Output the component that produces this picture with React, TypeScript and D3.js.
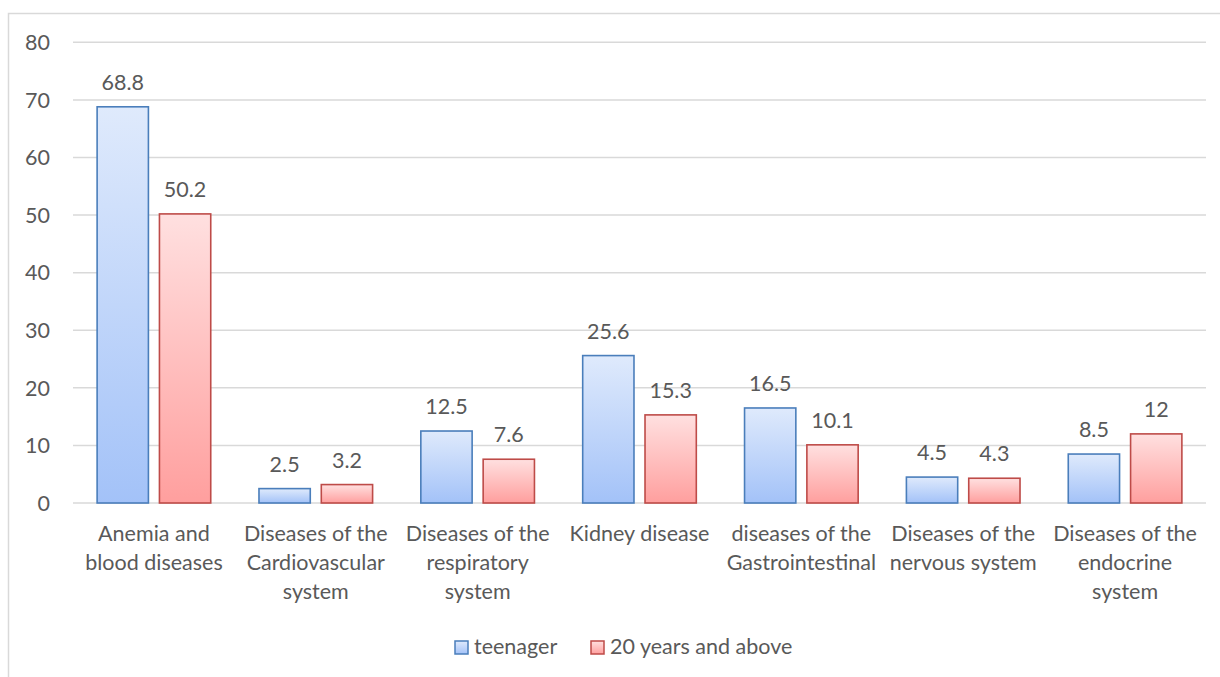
import React from "react";
import * as d3 from "d3";

const categories: string[][] = [
  ["Anemia and", "blood diseases"],
  ["Diseases of the", "Cardiovascular", "system"],
  ["Diseases of the", "respiratory", "system"],
  ["Kidney disease"],
  ["diseases of the", "Gastrointestinal"],
  ["Diseases of the", "nervous system"],
  ["Diseases of the", "endocrine", "system"],
];
const teenager = [68.8, 2.5, 12.5, 25.6, 16.5, 4.5, 8.5];
const adults = [50.2, 3.2, 7.6, 15.3, 10.1, 4.3, 12];
const seriesNames = ["teenager", "20 years and above"];
const yTicks = [0, 10, 20, 30, 40, 50, 60, 70, 80];

const W = 1220;
const H = 677;
const FONT = "Lato, 'Open Sans', sans-serif";
const TEXT = "#595959";
const FS = 21.5;

export default function App() {
  const left = 73;
  const right = 1206;
  const y = d3.scaleLinear().domain([0, 80]).range([503, 42.3]);
  const catKeys = categories.map((c) => c.join(" "));
  const x0 = d3.scaleBand<string>().domain(catKeys).range([left, right]).padding(0);
  const x1 = d3
    .scaleBand<string>()
    .domain(seriesNames)
    .range([0, x0.bandwidth()])
    .paddingInner(0.177)
    .paddingOuter(0.387);
  const series = [
    { name: seriesNames[0], values: teenager, grad: "gBlue", stroke: "#4a7ebb" },
    { name: seriesNames[1], values: adults, grad: "gRed", stroke: "#be4b48" },
  ];
  const fmt = (v: number) => String(v);

  return (
    <svg
      width={W}
      height={H}
      style={{ position: "absolute", left: 0, top: 0, background: "#fff" }}
      fontFamily={FONT}
    >
      <defs>
        <linearGradient id="gBlue" x1="0" y1="0" x2="0" y2="1">
          <stop offset="0" stopColor="#dfeafc" />
          <stop offset="1" stopColor="#a3c2f8" />
        </linearGradient>
        <linearGradient id="gRed" x1="0" y1="0" x2="0" y2="1">
          <stop offset="0" stopColor="#ffe0e0" />
          <stop offset="1" stopColor="#ff9f9e" />
        </linearGradient>
      </defs>
      <rect x={0} y={0} width={W} height={H} fill="#fff" />
      <path d={`M8.5,${H} V13.5 H${W}`} fill="none" stroke="#d9d9d9" strokeWidth={1.5} />
      {yTicks.map((t) => (
        <g key={t}>
          <line x1={left} x2={right} y1={y(t)} y2={y(t)} stroke="#d9d9d9" strokeWidth={1.5} />
          <text x={50} y={y(t)} dy="0.36em" textAnchor="end" fontSize={FS} fill={TEXT}>
            {t}
          </text>
        </g>
      ))}
      {series.map((s) =>
        s.values.map((v, i) => {
          const bx = (x0(catKeys[i]) as number) + (x1(s.name) as number);
          const bw = x1.bandwidth();
          return (
            <g key={s.name + i}>
              <rect
                x={bx}
                y={y(v)}
                width={bw}
                height={y(0) - y(v)}
                fill={`url(#${s.grad})`}
                stroke={s.stroke}
                strokeWidth={1.6}
              />
              <text
                x={bx + bw / 2}
                y={y(v) - 17}
                textAnchor="middle"
                fontSize={FS}
                fill={TEXT}
              >
                {fmt(v)}
              </text>
            </g>
          );
        })
      )}
      {categories.map((lines, i) => (
        <text
          key={i}
          x={(x0(catKeys[i]) as number) + x0.bandwidth() / 2}
          y={541}
          textAnchor="middle"
          fontSize={FS}
          fill={TEXT}
        >
          {lines.map((l, j) => (
            <tspan key={j} x={(x0(catKeys[i]) as number) + x0.bandwidth() / 2} dy={j === 0 ? 0 : 29}>
              {l}
            </tspan>
          ))}
        </text>
      ))}
      <g>
        <rect x={455} y={641} width={13} height={13} fill="url(#gBlue)" stroke="#4a7ebb" strokeWidth={1.5} />
        <text x={474} y={654} fontSize={FS} fill={TEXT}>
          {seriesNames[0]}
        </text>
        <rect x={591} y={641} width={13} height={13} fill="url(#gRed)" stroke="#be4b48" strokeWidth={1.5} />
        <text x={610} y={654} fontSize={FS} fill={TEXT}>
          {seriesNames[1]}
        </text>
      </g>
    </svg>
  );
}
